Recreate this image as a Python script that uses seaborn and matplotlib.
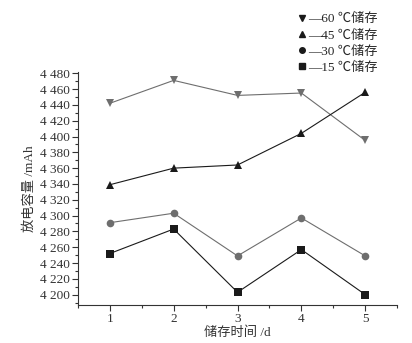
import pandas as pd
import matplotlib
matplotlib.use("Agg")
import matplotlib.pyplot as plt
from matplotlib.ticker import FuncFormatter, MultipleLocator
from matplotlib.lines import Line2D
import seaborn as sns

days = [1, 2, 3, 4, 5]
series_names = ["60 ℃储存", "45 ℃储存", "30 ℃储存", "15 ℃储存"]
cap_60 = [4442, 4471, 4452, 4455, 4395]
cap_45 = [4339, 4360, 4364, 4404, 4456]
cap_30 = [4291, 4303, 4249, 4297, 4249]
cap_15 = [4252, 4283, 4203, 4257, 4200]

colors = {"60 ℃储存": "#6e6e6e", "45 ℃储存": "#1a1a1a",
          "30 ℃储存": "#6e6e6e", "15 ℃储存": "#1a1a1a"}
markers = {"60 ℃储存": "v", "45 ℃储存": "^", "30 ℃储存": "o", "15 ℃储存": "s"}

df = pd.concat([
    pd.DataFrame({"day": days, "cap": vals, "series": name})
    for name, vals in zip(series_names, [cap_60, cap_45, cap_30, cap_15])
])

sns.set_style("ticks")
plt.rcParams['font.family'] = ['Liberation Serif', 'Noto Sans CJK SC']
plt.rcParams['axes.unicode_minus'] = False

fig = plt.figure(figsize=(4.12, 3.43), dpi=100)
ax = fig.add_axes([0.189, 0.111, 0.775, 0.68])

sns.lineplot(data=df, x="day", y="cap", hue="series", style="series",
             palette=colors, markers=markers, dashes=False, markersize=5.5,
             markeredgewidth=0, linewidth=0.8, ax=ax, legend=False)

ax.set_xlim(0.5, 5.5)
ax.set_ylim(4187, 4482)
ax.xaxis.set_major_locator(MultipleLocator(1))
ax.xaxis.set_minor_locator(MultipleLocator(0.5))
ax.yaxis.set_major_locator(MultipleLocator(20))
ax.yaxis.set_minor_locator(MultipleLocator(10))
ax.yaxis.set_major_formatter(FuncFormatter(lambda v, p: f"{int(v):,}".replace(",", " ")))
ax.tick_params(which="major", direction="out", length=4, width=0.8, labelsize=9.5,
               color="#333333", labelcolor="#333333", pad=2)
ax.tick_params(which="minor", direction="out", length=2, width=0.8, color="#333333")
for s in ["top", "right"]:
    ax.spines[s].set_visible(False)
for s in ["left", "bottom"]:
    ax.spines[s].set_linewidth(0.8)
    ax.spines[s].set_color("#333333")

ax.set_xlabel("储存时间 /d", fontsize=9.5, color="#333333", labelpad=1)
ax.set_ylabel("放电容量 /mAh", fontsize=9.5, color="#333333", labelpad=3)

handles = [Line2D([], [], linestyle="none", marker=markers[n], color="#1a1a1a",
                  markersize=4) for n in series_names]
labels = ["—" + n for n in series_names]
fig.legend(handles, labels, loc="upper left", bbox_to_anchor=(0.705, 0.985),
           frameon=False, fontsize=9.5, handlelength=0.6, handletextpad=0.1,
           labelspacing=0.3, borderaxespad=0.2)

fig.savefig("out.png", dpi=100)
